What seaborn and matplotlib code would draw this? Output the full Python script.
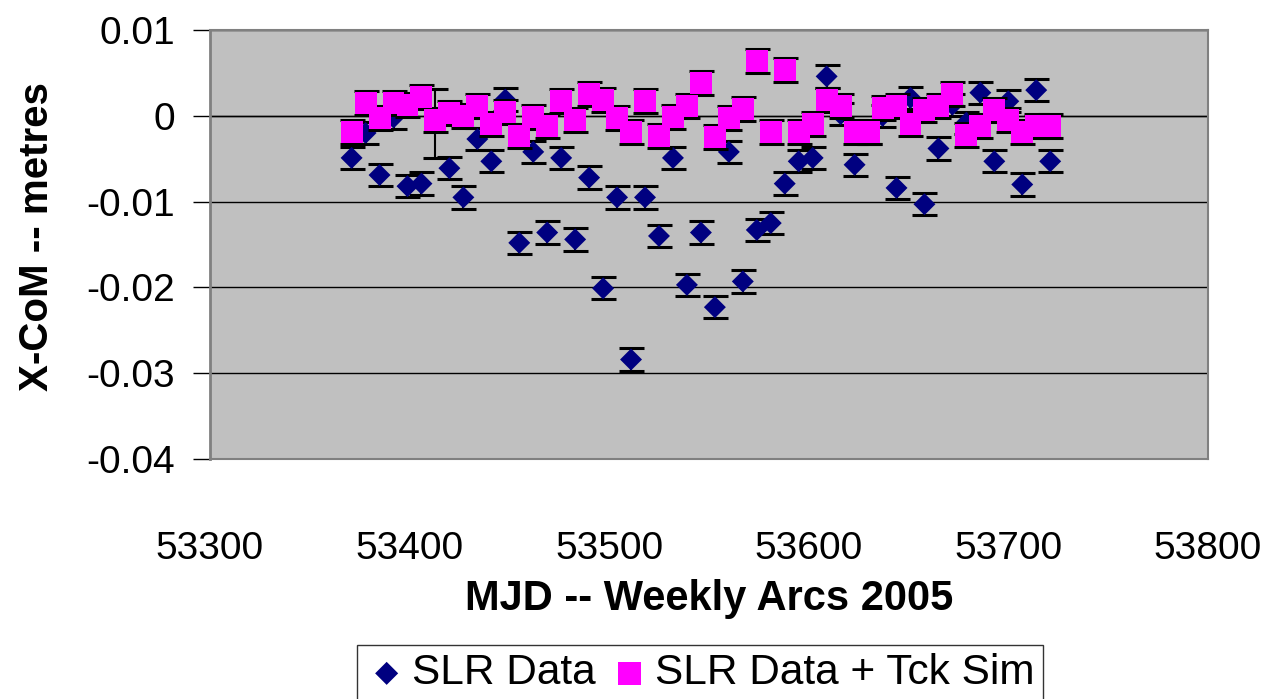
import matplotlib
matplotlib.use("Agg")
import matplotlib.pyplot as plt
import seaborn as sns
import pandas as pd

# -----------------------------
# Data
# -----------------------------
mjd = [53371, 53378, 53385, 53392, 53399, 53406, 53413, 53420, 53427, 53434,
       53441, 53448, 53455, 53462, 53469, 53476, 53483, 53490, 53497, 53504,
       53511, 53518, 53525, 53532, 53539, 53546, 53553, 53560, 53567, 53574,
       53581, 53588, 53595, 53602, 53609, 53616, 53623, 53630, 53637, 53644,
       53651, 53658, 53665, 53672, 53679, 53686, 53693, 53700, 53707, 53714,
       53721]

slr = [-0.0049, -0.0020, -0.0069, -0.0002, -0.0082, -0.0079, -0.0009, -0.0061, -0.0095, -0.0027,
       -0.0053, 0.0019, -0.0148, -0.0042, -0.0136, -0.0049, -0.0144, -0.0072, -0.0201, -0.0095,
       -0.0284, -0.0095, -0.0140, -0.0049, -0.0197, -0.0136, -0.0223, -0.0042, -0.0193, -0.0133,
       -0.0125, -0.0079, -0.0053, -0.0049, 0.0046, 0.0002, -0.0057, -0.0020, 0.0000, -0.0084,
       0.0021, -0.0103, -0.0038, 0.0013, -0.0008, 0.0027, -0.0053, 0.0017, -0.0080, 0.0030,
       -0.0053]

slr_err = [0.0013] * 6 + [0.0040] + [0.0013] * 44

sim = [-0.0019, 0.0015, -0.0003, 0.0015, 0.0013, 0.0022, -0.0005, 0.0003, 0.0000, 0.0011,
       -0.0010, 0.0004, -0.0024, -0.0001, -0.0012, 0.0017, -0.0005, 0.0026, 0.0019, -0.0003,
       -0.0019, 0.0017, -0.0023, -0.0001, 0.0011, 0.0038, -0.0025, -0.0003, 0.0008, 0.0064,
       -0.0019, 0.0053, -0.0019, -0.0010, 0.0019, 0.0011, -0.0019, -0.0019, 0.0009, 0.0011,
       -0.0009, 0.0007, 0.0011, 0.0026, -0.0022, -0.0012, 0.0007, -0.0005, -0.0019, -0.0012,
       -0.0012]

sim_err = [0.0014] * 51

x_ticks = [53300, 53400, 53500, 53600, 53700, 53800]
y_ticks = [0.01, 0, -0.01, -0.02, -0.03, -0.04]
y_tick_labels = ["0.01", "0", "-0.01", "-0.02", "-0.03", "-0.04"]

df = pd.DataFrame({"mjd": mjd, "slr": slr, "slr_err": slr_err,
                   "sim": sim, "sim_err": sim_err})

# -----------------------------
# Plot
# -----------------------------
plt.rcParams["font.family"] = ["Liberation Sans", "DejaVu Sans"]
plt.rcParams["axes.unicode_minus"] = False

fig = plt.figure(figsize=(12.72, 6.99), dpi=100)
ax = fig.add_axes([0.165, 0.3433, 0.7846, 0.6137])
ax.set_facecolor("#C0C0C0")

ax.errorbar(df["mjd"], df["slr"], yerr=df["slr_err"], fmt="none",
            ecolor="black", elinewidth=1.5, capsize=9, capthick=2.2, zorder=2)
sns.scatterplot(data=df, x="mjd", y="slr", marker="D", s=125, color="#000080",
                edgecolor="none", linewidth=0, ax=ax, zorder=3, label="SLR Data")
ax.errorbar(df["mjd"], df["sim"], yerr=df["sim_err"], fmt="none",
            ecolor="black", elinewidth=1.5, capsize=9, capthick=2.2, zorder=4)
sns.scatterplot(data=df, x="mjd", y="sim", marker="s", s=250, color="#FF00FF",
                edgecolor="none", linewidth=0, ax=ax, zorder=5,
                label="SLR Data + Tck Sim")

ax.set_xlim(53300, 53800)
ax.set_ylim(-0.04, 0.01)

ax.set_yticks(y_ticks)
ax.set_yticklabels(y_tick_labels)
ax.set_xticks(x_ticks)
ax.set_xticklabels([str(t) for t in x_ticks])

ax.yaxis.grid(True, color="black", linewidth=1)
ax.set_axisbelow(True)
ax.axhline(0, color="black", linewidth=1, zorder=1)

ax.tick_params(axis="y", labelsize=28, length=12, width=1, direction="out", pad=13)
ax.tick_params(axis="x", labelsize=28, length=0, pad=52)

for side in ["top", "right", "bottom"]:
    ax.spines[side].set_color("#808080")
    ax.spines[side].set_linewidth(1.5)
ax.spines["left"].set_color("#808080")
ax.spines["left"].set_linewidth(2)

ax.set_xlabel("MJD -- Weekly Arcs 2005", fontsize=30, fontweight="bold")
ax.set_ylabel("X-CoM -- metres", fontsize=29, fontweight="bold")
ax.xaxis.set_label_coords(0.5, -0.28)
ax.yaxis.set_label_coords(-0.154, 0.518)

ax.get_legend().remove()
handles, labels = ax.get_legend_handles_labels()
leg = fig.legend(handles, labels, loc="upper left",
                 bbox_to_anchor=(357 / 1272, 1 - 645 / 699), ncol=2,
                 fontsize=30.5, frameon=True, fancybox=False, edgecolor="black",
                 markerscale=1.05, handletextpad=0.1, columnspacing=0.3,
                 handlelength=1.0, borderpad=0.2, borderaxespad=0)
leg.get_frame().set_linewidth(1)

fig.savefig("out.png", dpi=100)
